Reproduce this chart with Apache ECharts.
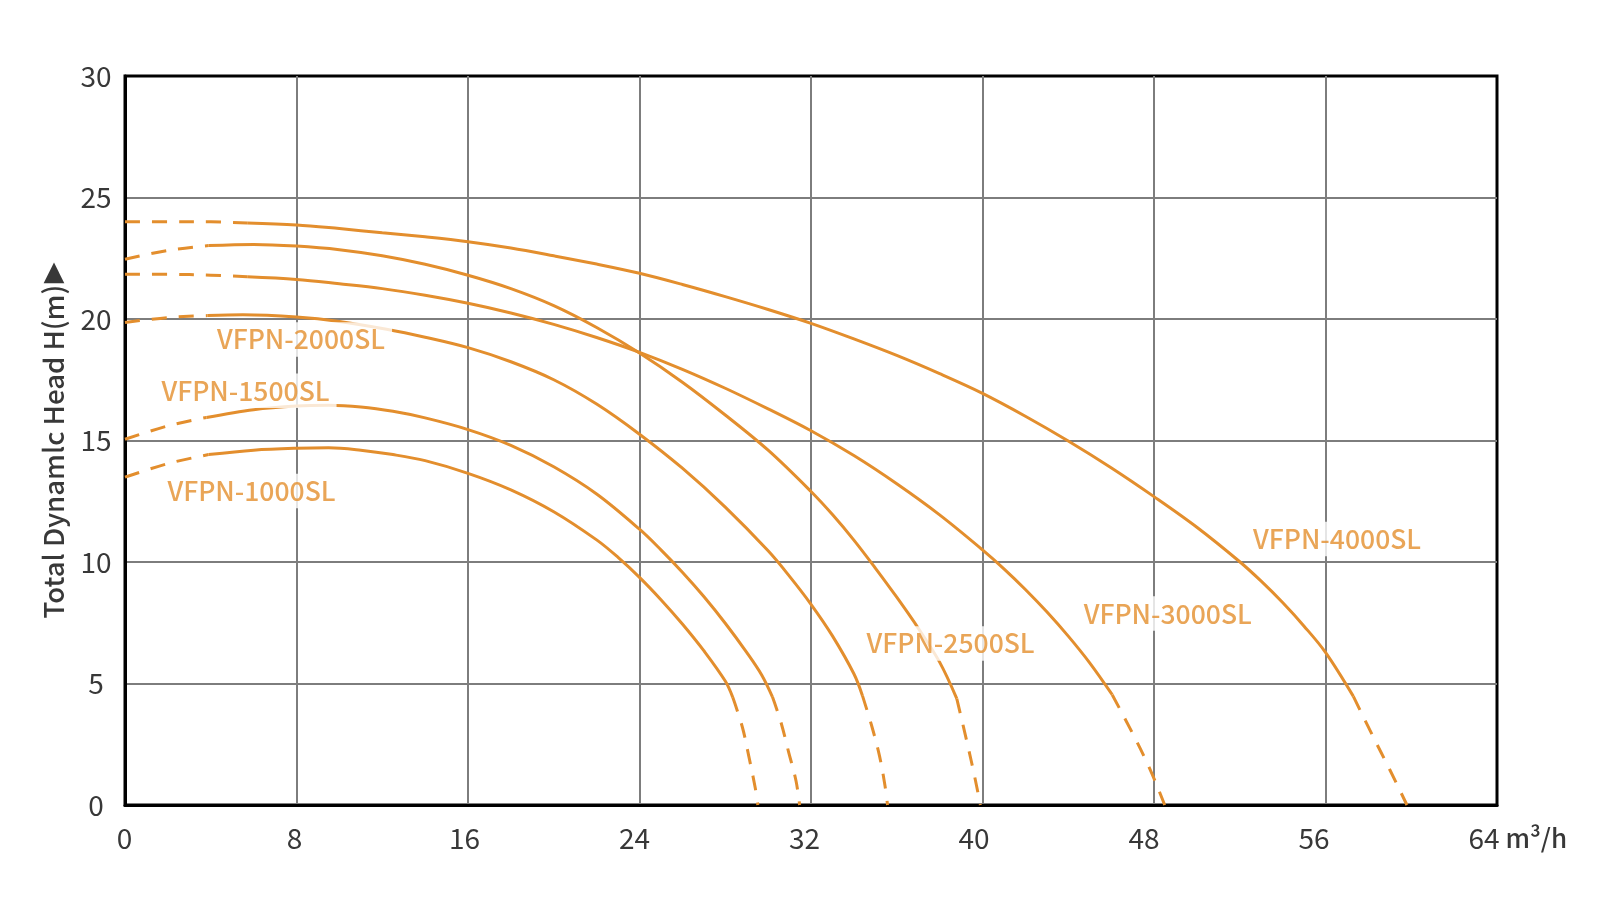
<!DOCTYPE html>
<html>
<head>
<meta charset="utf-8">
<script src="https://cdn.jsdelivr.net/npm/echarts@6/dist/echarts.min.js"></script>
<style>
  html, body { margin: 0; padding: 0; background: #ffffff; }
  #chart { width: 1614px; height: 921px; }
</style>
</head>
<body>
<div id="chart"></div>
<script>
// ---------- data (flow Q in m³/h, head H in m) ----------
const xTicks = [0, 8, 16, 24, 32, 40, 48, 56, 64];
const yTicks = [0, 5, 10, 15, 20, 25, 30];

const modelNames = ['VFPN-1000SL', 'VFPN-1500SL', 'VFPN-2000SL', 'VFPN-2500SL', 'VFPN-3000SL', 'VFPN-4000SL'];

// label anchors [Q, H] for each model name
const labelAnchors = [[5.9, 12.92], [5.62, 17.05], [8.21, 19.16], [38.51, 6.65], [48.64, 7.88], [56.54, 10.95]];

// VFPN-1000SL
const vfpn1000Start = [[0, 13.49], [2, 14.05], [3.9, 14.42]];
const vfpn1000Solid = [[3.9, 14.42], [6, 14.6], [8, 14.68], [9.5, 14.7], [11, 14.6], [12.5, 14.42], [14, 14.17], [16, 13.65], [18, 12.97], [20, 12.07], [22, 10.91], [23, 10.19], [24, 9.37], [25, 8.45], [26, 7.45], [27, 6.35], [28, 5.1], [28.35, 4.43]];
const vfpn1000End = [[28.35, 4.43], [28.8, 3.2], [29.1, 2.0], [29.4, 0.7], [29.52, 0]];

// VFPN-1500SL
const vfpn1500Start = [[0, 15.05], [2, 15.6], [3.8, 15.95]];
const vfpn1500Solid = [[3.8, 15.95], [6, 16.27], [8, 16.42], [9.5, 16.45], [11, 16.38], [12.5, 16.2], [14, 15.93], [16, 15.45], [18, 14.8], [20, 13.92], [22, 12.8], [24, 11.35], [25, 10.5], [26, 9.58], [27, 8.58], [28, 7.48], [29, 6.28], [29.7, 5.35], [30.2, 4.45]];
const vfpn1500End = [[30.2, 4.45], [30.6, 3.4], [30.95, 2.2], [31.3, 1.0], [31.47, 0]];

// VFPN-2000SL
const vfpn2000Start = [[0, 19.86], [2, 20.06], [3.85, 20.14]];
const vfpn2000Solid = [[3.85, 20.14], [5.5, 20.17], [8, 20.08], [10, 19.9], [12.2, 19.58], [14, 19.25], [16, 18.82], [18, 18.24], [20, 17.5], [22, 16.5], [24, 15.26], [26, 13.86], [28, 12.26], [30, 10.46], [31, 9.41], [32, 8.26], [33, 6.96], [34, 5.4], [34.4, 4.5]];
const vfpn2000End = [[34.4, 4.5], [34.85, 3.2], [35.2, 2.0], [35.45, 0.8], [35.57, 0]];

// VFPN-2500SL
const vfpn2500Start = [[0, 22.46], [2, 22.82], [3.9, 23.02]];
const vfpn2500Solid = [[3.9, 23.02], [6, 23.07], [8, 23.0], [10, 22.85], [12, 22.6], [14, 22.25], [16, 21.8], [18, 21.25], [20, 20.55], [22, 19.65], [24, 18.6], [26, 17.4], [28, 16.05], [30, 14.6], [32, 12.9], [33, 11.95], [34, 10.9], [35, 9.75], [36, 8.55], [37, 7.28], [38, 5.88], [38.8, 4.38]];
const vfpn2500End = [[38.8, 4.38], [39.3, 2.5], [39.65, 1.1], [39.9, 0]];

// VFPN-3000SL
const vfpn3000Start = [[0, 21.84], [2, 21.84], [4, 21.8], [5.7, 21.74]];
const vfpn3000Solid = [[5.7, 21.74], [8, 21.63], [10, 21.45], [12, 21.25], [14, 20.98], [16, 20.65], [18, 20.25], [20, 19.78], [22, 19.24], [24, 18.63], [26, 17.93], [28, 17.15], [30, 16.3], [32, 15.4], [34, 14.38], [36, 13.22], [38, 11.94], [40, 10.5], [41, 9.72], [42, 8.87], [43, 7.95], [44, 6.95], [45, 5.85], [46.05, 4.54]];
const vfpn3000End = [[46.05, 4.54], [47.0, 2.95], [47.8, 1.5], [48.5, 0]];

// VFPN-4000SL
const vfpn4000Start = [[0, 24.0], [2, 24.0], [4, 24.0], [5.7, 23.95]];
const vfpn4000Solid = [[5.7, 23.95], [8, 23.87], [10, 23.72], [12, 23.55], [14, 23.38], [16, 23.18], [18, 22.92], [20, 22.6], [22, 22.26], [24, 21.88], [26, 21.42], [28, 20.92], [30, 20.39], [32, 19.82], [34, 19.18], [36, 18.5], [38, 17.75], [40, 16.94], [42, 16.0], [44, 14.98], [46, 13.88], [48, 12.69], [50, 11.43], [52, 10.01], [53, 9.21], [54, 8.33], [55, 7.36], [56, 6.28], [57.3, 4.47]];
const vfpn4000End = [[57.3, 4.47], [58.2, 2.85], [59.0, 1.45], [59.8, 0]];

// ---------- styling ----------
const ORANGE = '#E38E2D';
const TEXT = '#383838';
const GRID = '#7d7d7d';
const CJK = '"Noto Sans CJK SC", "Noto Sans", sans-serif';

const curveSets = [
  [vfpn1000Start, vfpn1000Solid, vfpn1000End],
  [vfpn1500Start, vfpn1500Solid, vfpn1500End],
  [vfpn2000Start, vfpn2000Solid, vfpn2000End],
  [vfpn2500Start, vfpn2500Solid, vfpn2500End],
  [vfpn3000Start, vfpn3000Solid, vfpn3000End],
  [vfpn4000Start, vfpn4000Solid, vfpn4000End]
];

const series = [];
curveSets.forEach((parts, m) => {
  parts.forEach((pts, k) => {
    series.push({
      name: modelNames[m] + (k === 1 ? '' : (k === 0 ? ' (start)' : ' (end)')),
      type: 'line',
      data: pts,
      showSymbol: false,
      smooth: 0.35,
      silent: true,
      z: 3,
      lineStyle: {
        color: ORANGE,
        width: 3,
        type: k === 1 ? 'solid' : [15, 12],
        cap: 'butt'
      }
    });
  });
});

series.push({
  type: 'scatter',
  data: labelAnchors.map((p, i) => ({ value: p, name: modelNames[i] })),
  symbolSize: 0,
  silent: true,
  z: 10,
  label: {
    show: true,
    position: 'inside',
    formatter: p => p.name,
    fontFamily: CJK,
    fontSize: 26.5,
    fontWeight: 500,
    color: ORANGE,
    backgroundColor: '#ffffff',
    padding: [4, 7]
  }
});

const xRich = {};
xTicks.forEach((t, i) => {
  xRich['s' + i] = {
    fontFamily: CJK, fontSize: 28, color: TEXT,
    padding: [0, Math.round(3.2 * i + 0.6), 0, 0]
  };
});

const option = {
  backgroundColor: '#ffffff',
  animation: false,
  grid: {
    left: 125, top: 76, right: 117, bottom: 116,
    show: true, borderColor: '#000', borderWidth: 3,
    backgroundColor: 'transparent'
  },
  xAxis: {
    type: 'value',
    min: xTicks[0], max: xTicks[xTicks.length - 1], interval: 8,
    name: '\nm³/h',
    nameLocation: 'end',
    nameGap: 6,
    nameTextStyle: {
      fontFamily: CJK, fontSize: 26, fontWeight: 500, color: TEXT,
      align: 'left', verticalAlign: 'middle', lineHeight: 66
    },
    axisLine: { show: true, lineStyle: { color: '#000', width: 3 } },
    axisTick: { show: false },
    axisLabel: {
      margin: 33,
      verticalAlign: 'middle',
      formatter: (v, i) => '{s' + i + '|' + v + '}',
      rich: xRich
    },
    splitLine: { show: true, showMinLine: false, showMaxLine: false, lineStyle: { color: GRID, width: 2 } }
  },
  yAxis: {
    type: 'value',
    min: yTicks[0], max: yTicks[yTicks.length - 1], interval: 5,
    name: '{t|Total Dynamlc Head H(m)}{g| }{a|▶}',
    nameLocation: 'middle',
    nameRotate: 90,
    nameGap: 56,
    nameTextStyle: {
      rich: {
        t: { fontFamily: CJK, fontSize: 27.5, fontWeight: 500, color: TEXT, lineHeight: 30 },
        g: { fontFamily: CJK, fontSize: 6, lineHeight: 30 },
        a: { fontFamily: '"DejaVu Sans"', fontSize: 27, color: TEXT, lineHeight: 30 }
      }
    },
    axisLine: { show: true, lineStyle: { color: '#000', width: 3 } },
    axisTick: { show: false },
    axisLabel: {
      margin: 29,
      align: 'center',
      fontFamily: CJK, fontSize: 28, color: TEXT
    },
    splitLine: { show: true, showMinLine: false, showMaxLine: false, lineStyle: { color: GRID, width: 2 } }
  },
  series: series
};

const chart = echarts.init(document.getElementById('chart'), null, { renderer: 'canvas' });
chart.setOption(option);
</script>
</body>
</html>
